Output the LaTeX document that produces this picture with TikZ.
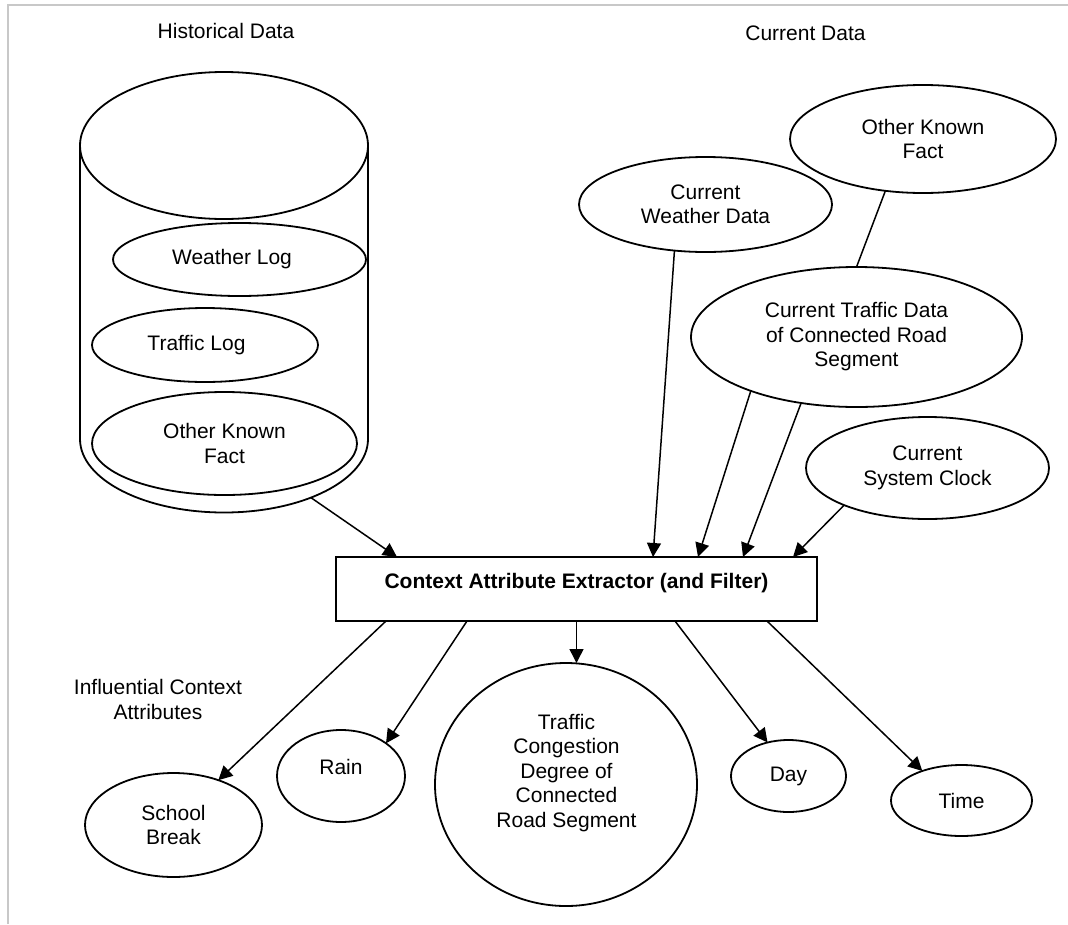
\documentclass[tikz,border=0pt]{standalone}
\usepackage{fontspec}
\setmainfont{Liberation Sans}
\usetikzlibrary{shapes.geometric,arrows.meta,calc}
\newcommand\diagfont{\fontsize{21}{24.5}\selectfont}
\definecolor{framegray}{RGB}{200,200,200}
\begin{document}
\begin{tikzpicture}[x=1pt,y=-1pt,
  every node/.style={font=\diagfont, align=center, inner sep=0pt, outer sep=0pt},
  oval/.style={ellipse, draw, line width=1.8pt},
  arr/.style={line width=1.5pt, -{Triangle[length=14pt,width=14pt]}},
  link/.style={line width=1.5pt},
]
\useasboundingbox (0,0) rectangle (1068,924);
\fill[white] (0,0) rectangle (1068,924);
% page frame (top and left edges)
\draw[framegray, line width=2.5pt] (8,924) -- (8,5) -- (1068,5);

% section captions
\node (histcap) at (226,31) {Historical Data};
\node (curcap) at (805.5,33) {Current Data};
\node (infcap) at (158,699.5) {Influential Context\\Attributes};

% historical data store (cylinder)
\node[oval, minimum width=288pt, minimum height=147pt] (cyltop) at (224,145.5) {};
\node[ellipse, minimum width=288pt, minimum height=147pt] (cylbase) at (224,439) {};
\draw[line width=1.8pt] (cyltop.west) -- (cylbase.west)
  arc[start angle=180, end angle=360, x radius=144pt, y radius=73.5pt] -- (cyltop.east);
\node[oval, minimum width=253pt, minimum height=73pt] (wlog) at (239.5,259.5) {Weather Log\hspace*{15pt}};
\node[oval, minimum width=226pt, minimum height=74pt] (tlog) at (205,345) {Traffic Log\hspace*{17pt}};
\node[oval, minimum width=265pt, minimum height=103pt] (okfa) at (224.5,443.5) {Other Known\\Fact};

% current data sources
\node[oval, minimum width=266pt, minimum height=108pt] (okfb) at (923,139) {Other Known\\Fact};
\node[oval, minimum width=253pt, minimum height=95pt] (cwd) at (705.5,204.5) {Current\\Weather Data};
\node[oval, minimum width=331pt, minimum height=140pt] (ctd) at (856.5,337) {Current Traffic Data\\of Connected Road\\Segment};
\node[oval, minimum width=243pt, minimum height=102pt] (clk) at (927.5,468) {Current\\System Clock};

% extractor
\node[draw, rectangle, line width=1.8pt, minimum width=481pt, minimum height=64pt,
      font=\diagfont\bfseries, text depth=16pt] (box) at (576.5,589) {Context Attribute Extractor (and Filter)};

% extracted attributes
\node[oval, minimum width=177pt, minimum height=104pt] (school) at (173.5,825) {School\\Break};
\node[oval, minimum width=128pt, minimum height=92pt, text depth=18pt] (rain) at (341,776) {Rain};
\node[oval, minimum width=262pt, minimum height=243pt] (tc) at (566,784.5) {};
\node (tctext) at (566.5,773) {Traffic\\Congestion\\Degree of\\Connected\\Road Segment};
\node[oval, minimum width=115pt, minimum height=72pt] (day) at (788.5,776) {Day};
\node[oval, minimum width=141pt, minimum height=71pt] (time) at (961.5,800.5) {Time};

% inputs to the extractor
\draw[link] (okfb.-126) -- (ctd.north);
\draw[arr] (cylbase.-34) -- ([xshift=-179.5pt]box.north);
\draw[arr] (cwd.-124) -- ([xshift=76.5pt]box.north);
\draw[arr] (ctd.-153) -- ([xshift=121.5pt]box.north);
\draw[arr] (ctd.-130) -- ([xshift=166.5pt]box.north);
\draw[arr] (clk.-156) -- ([xshift=216.5pt]box.north);

% outputs of the extractor
\draw[arr] ([xshift=-190.5pt]box.south) -- (school.45);
\draw[arr] ([xshift=-109.5pt]box.south) -- (rain.36);
\draw[arr] (box.south) -- (box.south |- tc.north);
\draw[arr] ([xshift=98.5pt]box.south) -- (day.122);
\draw[arr] ([xshift=190.5pt]box.south) -- (time.143);
\end{tikzpicture}
\end{document}
